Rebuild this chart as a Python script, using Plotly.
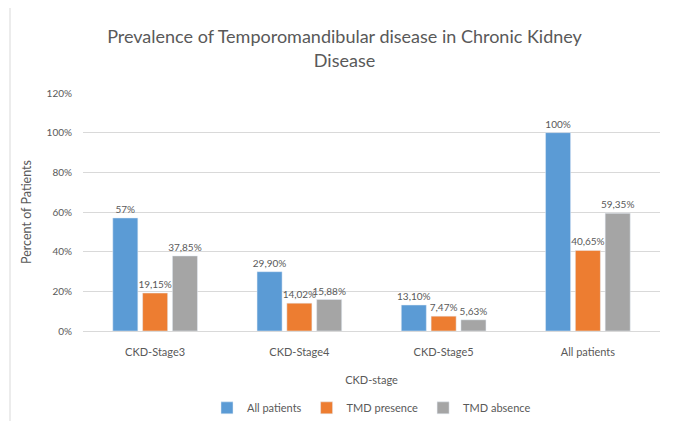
import plotly.graph_objects as go

categories = ["CKD-Stage3", "CKD-Stage4", "CKD-Stage5", "All patients"]
all_patients = [0.57, 0.299, 0.131, 1.00]
tmd_presence = [0.1915, 0.1402, 0.0747, 0.4065]
tmd_absence = [0.3785, 0.1588, 0.0563, 0.5935]
all_labels = ["57%", "29,90%", "13,10%", "100%"]
presence_labels = ["19,15%", "14,02%", "7,47%", "40,65%"]
absence_labels = ["37,85%", "15,88%", "5,63%", "59,35%"]

FONT = "Lato, sans-serif"
GRAY = "#595959"

fig = go.Figure()
for name, vals, labels, color in [
    ("All patients", all_patients, all_labels, "#5B9BD5"),
    ("TMD presence", tmd_presence, presence_labels, "#ED7D31"),
    ("TMD absence", tmd_absence, absence_labels, "#A5A5A5"),
]:
    fig.add_trace(go.Bar(
        x=categories, y=vals, name=name, marker_color=color,
        text=labels, textposition="outside", cliponaxis=False,
        constraintext="none", textangle=0,
        textfont=dict(size=10, color=GRAY, family=FONT),
    ))

fig.update_layout(
    width=673, height=413,
    margin=dict(l=75, r=21, t=85, b=90, autoexpand=False),
    paper_bgcolor="white", plot_bgcolor="white",
    barmode="group", bargap=0.38, bargroupgap=0.16,
    font=dict(family=FONT, color=GRAY, size=11),
    title=dict(text="Prevalence of Temporomandibular disease in Chronic Kidney<br>Disease",
               x=0.5, xanchor="center", y=0.915, yanchor="middle",
               font=dict(size=18, color=GRAY, family=FONT)),
    legend=dict(orientation="h", x=0.5, xanchor="center", y=-0.262, yanchor="top",
                font=dict(size=11, color=GRAY, family=FONT), itemwidth=30,
                tracegroupgap=0),
    yaxis=dict(range=[0, 1.2], dtick=0.2, tickformat=".0%", gridcolor="#D9D9D9",
               zeroline=False, showline=False, ticks="", automargin=False,
               title=dict(text="Percent of Patients", standoff=12, font=dict(size=12.5, color=GRAY)),
               tickfont=dict(size=10, color=GRAY), ticklabelstandoff=10),
    xaxis=dict(showline=True, linecolor="#D9D9D9", ticks="", automargin=False,
               ticklabelstandoff=11,
               title=dict(text="CKD-stage", standoff=19, font=dict(size=11, color=GRAY)),
               tickfont=dict(size=11, color=GRAY)),
    shapes=[dict(type="rect", xref="paper", yref="paper",
                 x0=-0.1265, x1=1.0295, y0=-0.39, y1=1.361,
                 line=dict(color="#D9D9D9", width=1))],
)

fig.write_html("out.html")
